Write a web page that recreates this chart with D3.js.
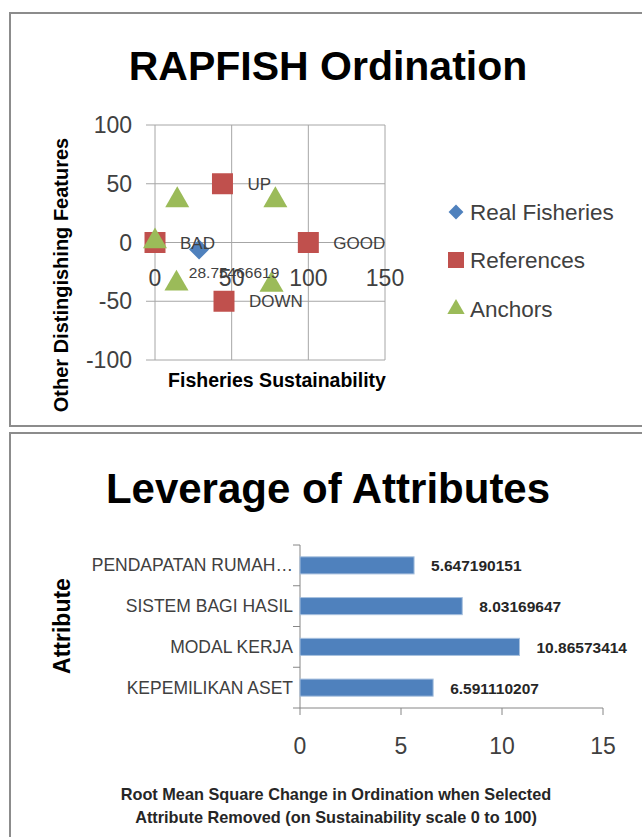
<!DOCTYPE html>
<html>
<head>
<meta charset="utf-8">
<style>
body { margin: 0; background: #fff; }
svg { display: block; font-family: "Liberation Sans", Arial, sans-serif; }
.grid line { stroke: #a6a6a6; stroke-width: 1; }
.lbl { fill: #404040; }
</style>
</head>
<body>
<script src="https://d3js.org/d3.v7.min.js"></script>
<script>
// ordination points
var realFisheries = [{x: 28.75466619, y: -6, label: "28.75466619"}];
var references = [
  {x: 0, y: 0, label: "BAD"},
  {x: 100, y: 0, label: "GOOD"},
  {x: 44, y: 50, label: "UP"},
  {x: 45, y: -50, label: "DOWN"}
];
var anchors = [
  {x: 0, y: 1}, {x: 14.5, y: 36}, {x: 78.5, y: 36},
  {x: 14, y: -35}, {x: 76, y: -36}
];
var xTicks = [0, 50, 100, 150];
var yTicks = [-100, -50, 0, 50, 100];

// leverage
var attributes = ["PENDAPATAN RUMAH…", "SISTEM BAGI HASIL", "MODAL KERJA", "KEPEMILIKAN ASET"];
var leverage = [5.647190151, 8.03169647, 10.86573414, 6.591110207];
var leverageTicks = [0, 5, 10, 15];

var blue = "#4f81bd", red = "#c0504d", green = "#9bbb59";

var svg = d3.select("body").append("svg").attr("width", 642).attr("height", 837);

// panel borders
svg.append("rect").attr("x", 10).attr("y", 13).attr("width", 650).attr("height", 413)
  .attr("fill", "none").attr("stroke", "#8c8c8c").attr("stroke-width", 2);
svg.append("rect").attr("x", 10).attr("y", 433).attr("width", 650).attr("height", 420)
  .attr("fill", "none").attr("stroke", "#8c8c8c").attr("stroke-width", 2);

// ---------- RAPFISH Ordination ----------
svg.append("text").attr("x", 328).attr("y", 80).attr("text-anchor", "middle")
  .attr("font-size", 41).attr("font-weight", "bold").text("RAPFISH Ordination");

var x = d3.scaleLinear().domain([0, 150]).range([155, 385]);
var y = d3.scaleLinear().domain([-100, 100]).range([360, 125]);

var grid = svg.append("g").attr("class", "grid");
grid.selectAll(".h").data(yTicks).enter().append("line")
  .attr("x1", 146).attr("x2", x(150))
  .attr("y1", d => y(d)).attr("y2", d => y(d));
grid.selectAll(".v").data(xTicks).enter().append("line")
  .attr("x1", d => x(d)).attr("x2", d => x(d))
  .attr("y1", y(100)).attr("y2", y(-100));

svg.selectAll(".ytl").data(yTicks).enter().append("text")
  .attr("class", "lbl").attr("x", 132).attr("y", d => y(d) + 8)
  .attr("text-anchor", "end").attr("font-size", 23).text(d => d);
svg.selectAll(".xtl").data(xTicks).enter().append("text")
  .attr("class", "lbl").attr("x", d => x(d)).attr("y", 286)
  .attr("text-anchor", "middle").attr("font-size", 23).text(d => d);

svg.append("text").attr("x", 277).attr("y", 387).attr("text-anchor", "middle")
  .attr("font-size", 19.5).attr("font-weight", "bold").text("Fisheries Sustainability");
svg.append("text").attr("transform", "translate(68,275) rotate(-90)")
  .attr("text-anchor", "middle").attr("font-size", 20).attr("font-weight", "bold")
  .text("Other Distingishing Features");

var sq = d3.symbol().type(d3.symbolSquare).size(441);
var tri = d3.symbol().type(d3.symbolTriangle).size(250);
var dia = d3.symbol().type(d3.symbolSquare).size(200);

svg.selectAll(".ref").data(references).enter().append("path")
  .attr("d", sq).attr("fill", red)
  .attr("transform", d => "translate(" + x(d.x) + "," + y(d.y) + ")");
svg.selectAll(".anc").data(anchors).enter().append("path")
  .attr("d", tri).attr("fill", green)
  .attr("transform", d => "translate(" + x(d.x) + "," + y(d.y) + ")");
svg.selectAll(".rf").data(realFisheries).enter().append("path")
  .attr("d", dia).attr("fill", blue)
  .attr("transform", d => "translate(" + x(d.x) + "," + y(d.y) + ") rotate(45)");

svg.selectAll(".refl").data(references).enter().append("text")
  .attr("class", "lbl").attr("x", d => x(d.x) + 25).attr("y", d => y(d.y) + 6)
  .attr("font-size", 17).text(d => d.label);
svg.selectAll(".rfl").data(realFisheries).enter().append("text")
  .attr("class", "lbl").attr("x", d => x(d.x) + 35).attr("y", d => y(d.y) + 28)
  .attr("text-anchor", "middle").attr("font-size", 15.5).text(d => d.label);

// legend
var legend = [
  {name: "Real Fisheries", type: d3.symbolSquare, size: 110, rot: 45, color: blue, ly: 212},
  {name: "References", type: d3.symbolSquare, size: 256, rot: 0, color: red, ly: 260},
  {name: "Anchors", type: d3.symbolTriangle, size: 130, rot: 0, color: green, ly: 309}
];
var lg = svg.selectAll(".lg").data(legend).enter().append("g")
  .attr("transform", d => "translate(456," + d.ly + ")");
lg.append("path").attr("d", d => d3.symbol().type(d.type).size(d.size)())
  .attr("transform", d => "rotate(" + d.rot + ")")
  .attr("fill", d => d.color);
lg.append("text").attr("class", "lbl").attr("x", 14).attr("y", 8)
  .attr("font-size", 22.5).text(d => d.name);

// ---------- Leverage of Attributes ----------
svg.append("text").attr("x", 328).attr("y", 503).attr("text-anchor", "middle")
  .attr("font-size", 42).attr("font-weight", "bold").text("Leverage of Attributes");

var bx = d3.scaleLinear().domain([0, 15]).range([300, 603]);
var by = d3.scaleBand().domain(attributes).range([545, 708]);

svg.append("line").attr("x1", 300).attr("x2", 300).attr("y1", 545).attr("y2", 708)
  .attr("stroke", "#868686");
svg.append("line").attr("x1", 300).attr("x2", bx(15)).attr("y1", 708).attr("y2", 708)
  .attr("stroke", "#868686");
svg.selectAll(".bt").data(d3.range(attributes.length + 1)).enter().append("line")
  .attr("x1", 293).attr("x2", 300)
  .attr("y1", d => 545 + d * by.step()).attr("y2", d => 545 + d * by.step())
  .attr("stroke", "#868686");
svg.selectAll(".xt").data(leverageTicks).enter().append("line")
  .attr("x1", d => bx(d)).attr("x2", d => bx(d)).attr("y1", 708).attr("y2", 715)
  .attr("stroke", "#868686");

var barH = by.bandwidth() * 0.42;
svg.selectAll(".bar").data(attributes).enter().append("rect")
  .attr("x", bx(0)).attr("y", d => by(d) + (by.bandwidth() - barH) / 2)
  .attr("width", (d, i) => bx(leverage[i]) - bx(0)).attr("height", barH)
  .attr("fill", blue).attr("stroke", "#a7c0de").attr("stroke-width", 1);

svg.selectAll(".vl").data(attributes).enter().append("text")
  .attr("x", (d, i) => bx(leverage[i]) + 17).attr("y", d => by(d) + by.bandwidth() / 2 + 6)
  .attr("font-size", 15.5).attr("font-weight", "bold").attr("fill", "#262626")
  .text((d, i) => leverage[i]);

svg.selectAll(".cl").data(attributes).enter().append("text")
  .attr("class", "lbl").attr("x", 293).attr("y", d => by(d) + by.bandwidth() / 2 + 6)
  .attr("text-anchor", "end").attr("font-size", 17.5).text(d => d);

svg.selectAll(".xtl2").data(leverageTicks).enter().append("text")
  .attr("class", "lbl").attr("x", d => bx(d)).attr("y", 754)
  .attr("text-anchor", "middle").attr("font-size", 23).text(d => d);

svg.append("text").attr("transform", "translate(70,626) rotate(-90)")
  .attr("text-anchor", "middle").attr("font-size", 23).attr("font-weight", "bold")
  .text("Attribute");

var xt = svg.append("text").attr("text-anchor", "middle").attr("font-size", 16.3)
  .attr("font-weight", "bold").attr("fill", "#262626");
xt.append("tspan").attr("x", 336).attr("y", 800).text("Root Mean Square Change in Ordination when Selected");
xt.append("tspan").attr("x", 336).attr("y", 823).text("Attribute Removed (on Sustainability scale 0 to 100)");
</script>
</body>
</html>
